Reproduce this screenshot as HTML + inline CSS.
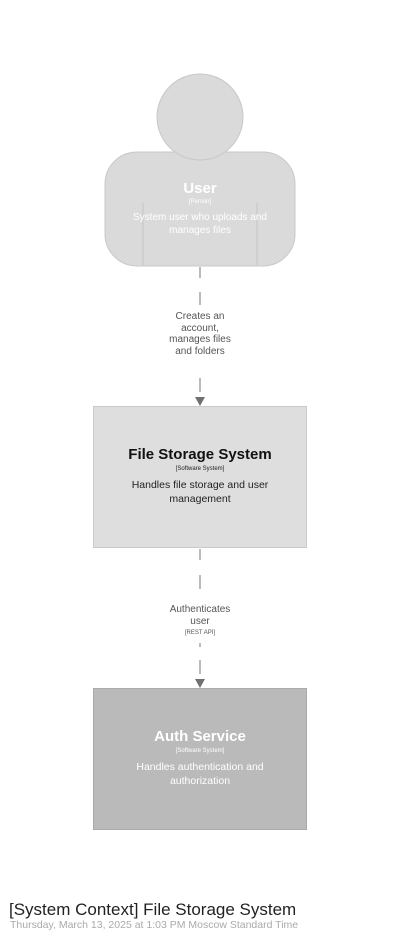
<!DOCTYPE html>
<html><head><style>
body{margin:0;background:#fff;width:400px;height:941px;position:relative;overflow:hidden;font-family:"Liberation Sans",sans-serif}
.t{position:absolute;text-align:center;left:0;width:400px}
</style></head><body>
<svg width="400" height="941" style="position:absolute;left:0;top:0">
<rect x="105" y="152" width="190" height="114" rx="32" fill="#dadada" stroke="#c8c8c8"/>
<circle cx="200" cy="117" r="43" fill="#dadada" stroke="#c8c8c8"/>
<line x1="143" y1="203" x2="143" y2="265" stroke="#c4c4c4"/>
<line x1="257" y1="203" x2="257" y2="265" stroke="#c4c4c4"/>
<g stroke="#777" stroke-width="1">
<line x1="200" y1="267" x2="200" y2="278"/><line x1="200" y1="292" x2="200" y2="305"/>
<line x1="200" y1="378" x2="200" y2="392"/>
<line x1="200" y1="549" x2="200" y2="560"/><line x1="200" y1="575" x2="200" y2="589"/>
<line x1="200" y1="643" x2="200" y2="647"/><line x1="200" y1="660" x2="200" y2="674"/>
</g>
<polygon points="195,397 205,397 200,406" fill="#707070"/>
<polygon points="195,679 205,679 200,688" fill="#707070"/>
<rect x="93.5" y="406.5" width="213" height="141" fill="#dedede" stroke="#cacaca"/>
<rect x="93.5" y="688.5" width="213" height="141" fill="#bababa" stroke="#aaa"/>
</svg>
<div class="t" style="top:180px;color:#fff;font-weight:bold;font-size:15px">User</div>
<div class="t" style="top:199px;color:#fff;font-size:6px">[Person]</div>
<div class="t" style="top:211px;color:#fff;font-size:10px;line-height:13px">System user who uploads and<br>manages files</div>
<div class="t" style="top:311px;color:#555;font-size:10px;line-height:11.5px">Creates an<br>account,<br>manages files<br>and folders</div>
<div class="t" style="top:446px;color:#111;font-weight:bold;font-size:15px">File Storage System</div>
<div class="t" style="top:466px;color:#222;font-size:6px">[Software System]</div>
<div class="t" style="top:478px;color:#222;font-size:10.5px;line-height:14px">Handles file storage and user<br>management</div>
<div class="t" style="top:604px;color:#555;font-size:10px;line-height:12px">Authenticates<br>user</div>
<div class="t" style="top:630px;color:#555;font-size:6px">[REST API]</div>
<div class="t" style="top:728px;color:#fff;font-weight:bold;font-size:15px">Auth Service</div>
<div class="t" style="top:748px;color:#fff;font-size:6px">[Software System]</div>
<div class="t" style="top:760px;color:#fff;font-size:10.5px;line-height:14px">Handles authentication and<br>authorization</div>
<div style="position:absolute;left:9px;top:900px;font-size:17px;color:#222;white-space:nowrap">[System Context] File Storage System</div>
<div style="position:absolute;left:10px;top:919px;font-size:10.5px;color:#aaa;white-space:nowrap">Thursday, March 13, 2025 at 1:03 PM Moscow Standard Time</div>
</body></html>
